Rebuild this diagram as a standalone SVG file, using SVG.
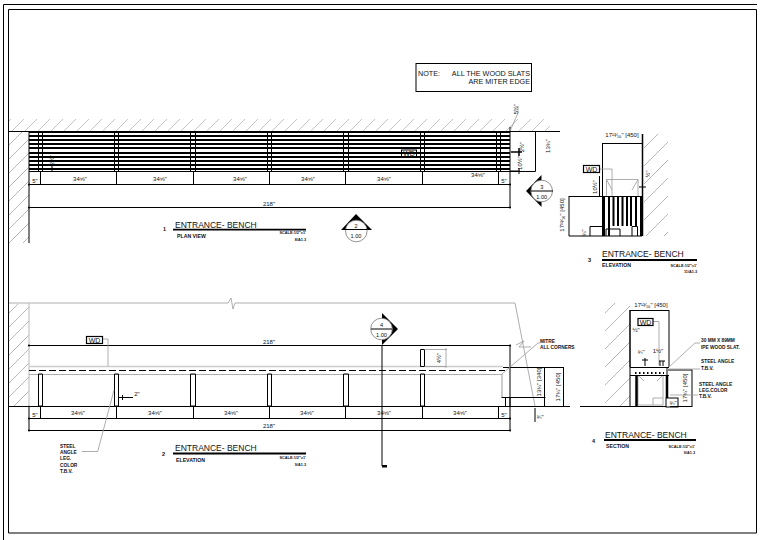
<svg xmlns="http://www.w3.org/2000/svg" width="766" height="540" viewBox="0 0 766 540">
<style>
text{font-family:"Liberation Sans",Arial,sans-serif;fill:#111}
.k{fill:none;stroke:#000;stroke-width:1}
.t{fill:none;stroke:#000;stroke-width:2}
.g{fill:none;stroke:#999;stroke-width:.8}
.lg{fill:none;stroke:#ccc;stroke-width:1.6}
.d{font-size:6px;text-anchor:middle}
.wd{font-size:7px;text-anchor:middle}
.ti{font-size:8.5px}
.su{font-size:5.200px;font-weight:bold}
.sc{font-size:3.8px;font-weight:bold;text-anchor:end}
.n{font-size:7.200px}
.l{font-size:4.8px;font-weight:bold}
.c{font-size:5.600px;text-anchor:middle}
.num{font-size:5.500px;font-weight:bold}
.box{fill:#fff;stroke:#000;stroke-width:1.200}
</style>
<defs>
<pattern id="h13" width="13" height="13" patternUnits="userSpaceOnUse"><path d="M0 13L13 0" stroke="#aaa" stroke-width=".7"/></pattern>
<pattern id="h14" width="14" height="14" patternUnits="userSpaceOnUse"><path d="M0 14L14 0" stroke="#999" stroke-width=".7"/></pattern>
<pattern id="h18" width="18" height="18" patternUnits="userSpaceOnUse"><path d="M0 18L18 0" stroke="#999" stroke-width=".7"/></pattern>
<marker id="tick" markerWidth="4" markerHeight="4" refX="2" refY="2" markerUnits="userSpaceOnUse"><circle cx="2" cy="2" r="1.100" fill="#000"/></marker>
</defs>
<rect width="766" height="540" fill="#fff"/>
<g id="frame">
<path class="k" d="M3.500 540V4.500H757"/>
<path class="k" d="M8.500 533V9.500H756.500V533H8.500"/>
</g>
<g id="note">
<rect x="416" y="63.500" width="115.500" height="28" fill="#fff" stroke="#000"/>
<text class="n" x="418" y="75.500">NOTE:</text>
<text class="n" x="530" y="75.500" text-anchor="end">ALL THE WOOD SLATS</text>
<text class="n" x="530" y="83.500" text-anchor="end">ARE MITER EDGE</text>
</g>
<g id="plan-view">
<rect x="9" y="119" width="541" height="12" fill="url(#h13)"/>
<rect x="9" y="132" width="20" height="111" fill="url(#h14)"/>
<path class="k" d="M9 131.500H560M29 131V243M510 127V208"/>
<path class="t" d="M29 132H510M29 136H510M29 140H510M29 144H510M29 148H510M29 153H510M29 157H510M29 161H510M29 165H510M29 169H510"/>
<path class="k" d="M29 171.500H510"/>
<path class="k" d="M38.500 132V171M42.500 132V171M114.500 132V171M118.500 132V171M190.500 132V171M195.500 132V171M267.500 132V171M271.500 132V171M343.500 132V171M348.500 132V171M420.500 132V171M424.500 132V171M496.500 132V171M500.500 132V171"/>
<path class="k" d="M40.500 172V184M116.500 172V184M193.500 172V184M269.500 172V184M345.500 172V184M422.500 172V184M498.500 172V184"/>
<path class="k" d="M29 184.500H510" marker-start="url(#tick)" marker-end="url(#tick)"/>
<path class="k" d="M29 207.500H510" marker-start="url(#tick)" marker-end="url(#tick)"/>
<path class="k" d="M510 171.500H535.500V131.500"/>
<path class="g" d="M510 131L518 113V106"/>
<path d="M511 152H522M519 148V156" stroke="#000" stroke-width="1.500" fill="none"/>
<path class="k" d="M510 171H520M519 168V174"/>
<path class="k" d="M52 166V172"/>
<g class="d">
<text x="80" y="181">34⅝"</text><text x="160" y="181">34⅝"</text><text x="240" y="181">34⅝"</text><text x="308" y="181">34⅝"</text><text x="384" y="181">34⅝"</text><text x="478" y="177">34⅝"</text>
<text x="35" y="183">5"</text><text x="504" y="183">5"</text><text x="269" y="206">218"</text>
<text transform="translate(54 160) rotate(-90)">2½"</text>
<text transform="translate(518 109) rotate(-90)">5½"</text>
<text transform="translate(524 147) rotate(-90)">2½"</text>
<text transform="translate(522 163) rotate(-90)">10½"</text>
<text transform="translate(550 146) rotate(-90)">13¾"</text>
</g>
<rect x="401.500" y="150" width="15" height="7" fill="none" stroke="#000"/>
<text class="wd" x="409" y="156">WD</text>
<text class="num" x="163" y="231">1</text>
<text class="ti" x="175" y="227.500">ENTRANCE- BENCH</text>
<path d="M173 229.700H306" stroke="#000" stroke-width="1.800"/>
<text class="su" x="177" y="238">PLAN VIEW</text>
<text class="sc" x="306" y="234">SCALE:1/2"=1'</text>
<text class="sc" x="306" y="241">8/A1.3</text>
</g>
<g id="callout-2">
<path d="M356 214L372 230H341Z" fill="#000"/>
<circle cx="356.300" cy="231" r="10.800" fill="#fff" stroke="#777" stroke-width=".8"/>
<path class="k" d="M345 229.500H367"/>
<text class="c" x="356" y="227.500">2</text><text class="c" x="356" y="237.500">1.00</text>
</g>
<g id="callout-3">
<path d="M526 191L541.500 175V207Z" fill="#000"/>
<circle cx="541.700" cy="191" r="10.800" fill="#fff" stroke="#777" stroke-width=".8"/>
<path class="k" d="M531 191H553"/>
<text class="c" x="541.700" y="189">3</text><text class="c" x="541.700" y="198.500">1.00</text>
</g>
<g id="section-3">
<rect x="644" y="134" width="24" height="102" fill="url(#h18)"/>
<path d="M642.500 134V236" stroke="#000" stroke-width="1.500"/>
<path class="k" d="M602.500 143.500H642M602.500 143V236"/>
<path class="g" d="M599 169H612V197M606.500 197V179.500H638V197M606.500 179.500L612 190M638 179.500L632 190"/>
<rect x="583.500" y="165.500" width="16" height="7" fill="#fff" stroke="#000" stroke-width="1.200"/>
<text class="wd" x="591.500" y="171.500">WD</text>
<path class="k" d="M569 196.500H642M569 236H642M569 196V236M590 236V226.500H602M632 236V226.500H637.500V236"/>
<path class="t" d="M604 197V236M609 197V236M613.500 197V226M618 197V226M622.500 197V226M627 197V226M631 197V226M636 197V226M641 197V236"/>
<path class="k" d="M606 236V229H620V236"/>
<path class="k" d="M599.500 196V176M639 187H646"/>
<g class="d">
<text x="622" y="137">17¹³⁄₁₆" [450]</text>
<text transform="translate(597 187) rotate(-90)">10½"</text>
<text transform="translate(650 174) rotate(-90)">½"</text>
<text transform="translate(564 215) rotate(-90)">17¹³⁄₁₆" [450]</text>
<text transform="translate(586 233) rotate(-90)">¾"</text>
</g>
<text class="num" x="588" y="262">3</text>
<text class="ti" x="602" y="256.500">ENTRANCE- BENCH</text>
<path d="M602 260H697" stroke="#000" stroke-width="1.800"/>
<text class="su" x="602" y="267">ELEVATION</text>
<text class="sc" x="697" y="267">SCALE:1/2"=1'</text>
<text class="sc" x="697" y="273">11/A1.3</text>
</g>
<g id="elevation">
<path class="g" d="M9 303H228L231 298L233 309L235 303H515L523 344L535 406" stroke="#888"/>
<path class="g" d="M516 345L524 341L519 347L531 347"/>
<rect x="9" y="304" width="20" height="102" fill="url(#h14)"/>
<path d="M29 303V406" stroke="#bbb" stroke-width="1"/>
<path class="k" d="M9 406.500H570"/>
<path class="k" d="M29 345.500H510" marker-start="url(#tick)" marker-end="url(#tick)"/>
<path class="k" d="M510 345V430"/>
<path class="lg" d="M29 366.500H503"/>
<path d="M29 370.500H505" stroke="#000" stroke-width="1" stroke-dasharray="7 3" fill="none"/>
<path class="g" d="M29 374.500H502" stroke-width="1"/>
<path d="M502 374V397" stroke="#bbb" stroke-width="1.500"/>
<path class="k" d="M501.500 397.500H545.500M505.500 398V406M510 398V406"/>
<path class="k" d="M38.500 374V406H42.500V374H38.500M114.500 374V406H118.500V374H114.500M190.500 374V406H195.500V374H190.500M267.500 374V406H271.500V374H267.500M343.500 374V406H348.500V374H343.500M420.500 374V406H424.500V374H420.500"/>
<path class="k" d="M420.500 349.500H424.500V366.500H420.500V349.500"/>
<path class="g" d="M424.500 349.500H447M424.500 366.500H446M446 348V368"/>
<path class="k" d="M40.500 407V418M116.500 407V418M193.500 407V418M269.500 407V418M345.500 407V418M422.500 407V418M498.500 407V418"/>
<path class="k" d="M29 418.500H510" marker-start="url(#tick)" marker-end="url(#tick)"/>
<path class="k" d="M29 430.500H510" marker-start="url(#tick)" marker-end="url(#tick)"/>
<path class="k" d="M29 407V431"/>
<path class="k" d="M503 367.500H564M544.500 367V407M563.500 367V407M535 408V422"/>
<path class="k" d="M119 397.500H133M122.500 395V400"/>
<path class="g" d="M103 339H108V366M81.700 451.500H97.700L114 390M502 374L538 343H540"/>
<rect x="86.500" y="336.500" width="16" height="7" class="box"/>
<text class="wd" x="94.500" y="342.500">WD</text>
<g class="d">
<text x="269" y="343.500">218"</text><text x="269" y="427.500">218"</text>
<text x="78" y="415">34⅝"</text><text x="155" y="415">34⅝"</text><text x="231" y="415">34⅝"</text><text x="307" y="415">34⅝"</text><text x="384" y="415">34⅝"</text><text x="460" y="415">34⅝"</text>
<text x="35" y="416.500">5"</text><text x="504" y="416.500">5"</text><text x="137" y="396">2"</text>
<text transform="translate(441 358) rotate(-90)">4½"</text>
<text transform="translate(540.500 382) rotate(-90)">13¾" [340]</text>
<text transform="translate(559.500 387) rotate(-90)">17¾" [450]</text>
<text x="540" y="419">¾"</text>
</g>
<g class="l">
<text x="60" y="447.500">STEEL</text><text x="60" y="453.500">ANGLE</text><text x="60" y="460">LEG.</text><text x="60" y="466.500">COLOR</text><text x="60" y="473">T.B.V.</text>
<text x="540" y="342.500">MITRE</text><text x="540" y="348.500">ALL CORNERS</text>
</g>
<text class="num" x="162" y="455.500">2</text>
<text class="ti" x="175" y="451">ENTRANCE- BENCH</text>
<path d="M173 453.500H306" stroke="#000" stroke-width="1.800"/>
<text class="su" x="176" y="462">ELEVATION</text>
<text class="sc" x="306" y="459">SCALE:1/2"=1'</text>
<text class="sc" x="306" y="466">9/A1.3</text>
</g>
<g id="callout-4">
<path d="M382 345V466" stroke="#000" stroke-width="1"/>
<path d="M382 465H387V467.500H382Z" fill="#000"/>
<path d="M398 329L382 313V345Z" fill="#000"/>
<circle cx="381.500" cy="329" r="10.800" fill="#fff" stroke="#777" stroke-width=".8"/>
<path class="k" d="M371 329H392"/>
<text class="c" x="381.500" y="327">4</text><text class="c" x="381.500" y="336.500">1.00</text>
</g>
<g id="section-4">
<rect x="605" y="303" width="25" height="103" fill="url(#h18)"/>
<path d="M630 310V367" stroke="#000" stroke-width="1.500"/>
<path class="k" d="M580 406.500H634M630 367V406M669 310V367M630 310.500H669"/>
<path class="g" d="M653 321.500H659V365M638 375V405H663V375M638 375L644 381M663 375L657 381M653 405V398H663"/>
<rect x="638" y="318.500" width="15" height="7" class="box"/>
<text class="wd" x="645.500" y="324.500">WD</text>
<path class="k" d="M630 367.500H669M630 375.500H669M667 367V407M630 406.500H674"/>
<path d="M636.500 375V406M667 375V398" stroke="#000" stroke-width="2.500" fill="none"/>
<path d="M635 373H664" stroke="#000" stroke-width="2" stroke-dasharray="1.500 2.500" fill="none"/>
<rect x="666" y="398" width="12" height="9" fill="#fff" stroke="#000"/>
<path class="k" d="M668 370H692M692 369.500V407M670 406.500H692"/>
<path class="k" d="M642 360H648M645 358V366M660 361V366M663 361V366M659 361H665"/>
<path class="g" d="M669 367L695 343H700M668 369H700M670 395H698"/>
<g class="d">
<text x="651" y="307">17¹³⁄₁₆" [450]</text>
<text x="636" y="332">½"</text>
<text x="641" y="354">¾"</text>
<text x="658" y="353">1½"</text>
<text x="673" y="405">¾"</text>
<text transform="translate(687 388) rotate(-90)">17¾" [450]</text>
</g>
<g class="l">
<text x="701" y="342">30 MM X 89MM</text><text x="701" y="349">IPE WOOD SLAT.</text>
<text x="701" y="363">STEEL ANGLE</text><text x="701" y="370">T.B.V.</text>
<text x="699" y="386">STEEL ANGLE</text><text x="699" y="392">LEG.COLOR</text><text x="699" y="398">T.B.V.</text>
</g>
<text class="num" x="592" y="443">4</text>
<text class="ti" x="605" y="437.500">ENTRANCE- BENCH</text>
<path d="M604 440H696" stroke="#000" stroke-width="1.800"/>
<text class="su" x="606" y="448">SECTION</text>
<text class="sc" x="695" y="448">SCALE:1/2"=1'</text>
<text class="sc" x="695" y="454">9/A1.3</text>
</g>
</svg>
